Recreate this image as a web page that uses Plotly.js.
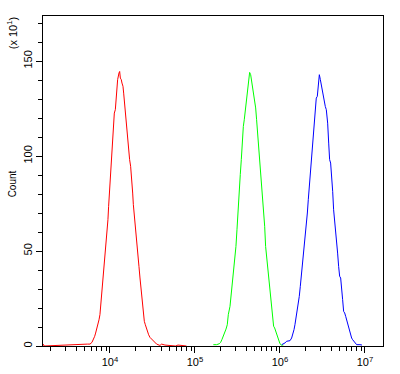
<!DOCTYPE html>
<html>
<head>
<meta charset="utf-8">
<script src="https://cdn.plot.ly/plotly-3.0.1.min.js"></script>
<style>html,body{margin:0;padding:0;background:#fff;}#chart{width:400px;height:374px;}</style>
</head>
<body>
<div id="chart"></div>
<script>
// log10 of fluorescence intensity, and counts (x10^1)
const redLogX = [3.215,3.225,3.733,3.765,3.788,3.804,3.820,3.831,3.843,3.859,3.871,3.882,3.890,3.898,3.910,3.922,3.929,3.941,3.949,3.961,3.969,3.976,3.984,3.996,4.004,4.016,4.027,4.039,4.051,4.063,4.071,4.082,4.090,4.106,4.114,4.122,4.133,4.141,4.153,4.161,4.169,4.184,4.196,4.208,4.224,4.231,4.243,4.255,4.267,4.275,4.286,4.302,4.314,4.329,4.341,4.353,4.365,4.380,4.392,4.404,4.416,4.427,4.443,4.455,4.471,4.494,4.522,4.549,4.588,4.608,4.647,4.686,4.72,4.77,4.80,4.85,4.90];
const redCount = [1.0,0,1.0,1.0,1.9,3.3,5.1,6.8,8.6,11.2,13.8,16.5,20.9,24.7,29.6,35.2,41.0,45.4,50.7,55.9,61.2,66.5,73.5,82.3,91.9,100.7,107.7,119.1,122.6,124.4,128.8,133.1,140.2,143.7,144.5,141.0,140.2,138.4,136.7,133.1,128.8,124.4,115.6,108.6,100.7,98.1,94.6,89.3,80.5,74.4,68.2,60.4,52.4,47.2,41.9,35.8,29.6,23.5,17.4,13.0,11.2,9.5,7.7,5.9,4.5,3.3,1.9,1.0,0.3,1.0,0.5,0.3,0.5,0,0.5,0.3,0];

const greenLogX = [5.216,5.255,5.286,5.302,5.318,5.333,5.349,5.365,5.380,5.392,5.412,5.424,5.435,5.447,5.459,5.471,5.482,5.494,5.502,5.514,5.522,5.533,5.545,5.557,5.569,5.580,5.592,5.604,5.620,5.631,5.643,5.655,5.667,5.678,5.690,5.702,5.714,5.725,5.737,5.749,5.761,5.773,5.784,5.796,5.808,5.820,5.831,5.843,5.855,5.867,5.878,5.890,5.902,5.914,5.925,5.937,5.949,5.961,5.973,5.984,6.000,6.016,6.039];
const greenCount = [0.7,0.7,1.2,1.9,3.5,5.1,6.5,8.9,11.2,16.5,20.9,26.1,31.4,36.7,40.2,45.4,52.4,61.2,68.2,75.2,80.5,90.2,98.1,108.6,115.6,119.1,124.4,129.6,136.7,142.0,144.0,142.8,139.3,138.4,133.1,128.8,125.3,119.1,112.1,106.8,99.8,92.8,84.9,80.5,70.0,63.0,52.4,47.2,40.2,34.9,29.6,24.4,19.1,14.7,10.4,9.5,7.7,5.9,4.2,2.5,1.2,0.5,0.5];

const blueLogX = [6.020,6.039,6.059,6.078,6.118,6.137,6.149,6.165,6.176,6.188,6.204,6.216,6.227,6.239,6.251,6.263,6.275,6.286,6.298,6.310,6.322,6.333,6.345,6.357,6.369,6.380,6.392,6.404,6.416,6.427,6.439,6.451,6.463,6.475,6.486,6.498,6.510,6.522,6.533,6.545,6.561,6.573,6.584,6.596,6.608,6.620,6.631,6.643,6.655,6.667,6.678,6.690,6.702,6.714,6.725,6.737,6.749,6.761,6.773,6.784,6.796,6.808,6.820,6.831,6.843,6.855,6.867,6.878,6.890,6.902,6.941,6.965];
const blueCount = [0.7,1.0,1.6,2.5,2.8,4.2,5.9,8.6,11.2,14.7,17.4,21.7,26.1,31.4,36.7,41.9,47.2,52.4,57.7,63.8,70.0,77.0,84.0,91.0,98.1,103.3,110.3,118.2,120.9,130.5,131.4,135.8,142.8,140.2,137.5,134.0,130.5,127.9,126.1,124.4,117.3,106.8,98.1,96.3,90.2,81.4,71.7,66.5,59.5,54.2,48.9,41.9,36.7,35.8,31.4,24.4,18.2,17.4,15.6,13.8,12.1,9.5,7.7,5.9,4.2,3.3,2.5,1.6,1.0,0.7,0.7,0.5];

const xMajorTicks = [1e4, 1e5, 1e6, 1e7];
const xMajorLabels = ['10<sup>4</sup>', '10<sup>5</sup>', '10<sup>6</sup>', '10<sup>7</sup>'];
const xMinorTicks = [2e3,3e3,4e3,5e3,6e3,7e3,8e3,9e3,2e4,3e4,4e4,5e4,6e4,7e4,8e4,9e4,2e5,3e5,4e5,5e5,6e5,7e5,8e5,9e5,2e6,3e6,4e6,5e6,6e6,7e6,8e6,9e6];
const yMajorTicks = [0, 50, 100, 150];
const yMinorTicks = [10,20,30,40,60,70,80,90,110,120,130,140,160,170];

const toX = arr => arr.map(v => Math.pow(10, v));

const traces = [
  {x: toX(redLogX), y: redCount, color: '#ff0000'},
  {x: toX(greenLogX), y: greenCount, color: '#00ff00'},
  {x: toX(blueLogX), y: blueCount, color: '#0000ff'}
].map(t => ({x: t.x, y: t.y, type: 'scatter', mode: 'lines', line: {color: t.color, width: 1}, hoverinfo: 'skip'}));

const font = {family: '"Liberation Sans", Arial, sans-serif', size: 11, color: '#000'};

const layout = {
  width: 400, height: 374,
  margin: {l: 43, r: 17, t: 16, b: 28, pad: 0},
  paper_bgcolor: '#fff', plot_bgcolor: '#fff',
  showlegend: false,
  font: font,
  xaxis: {
    type: 'log', range: [3.212, 7.212],
    showgrid: false, zeroline: false,
    showline: true, linecolor: '#000', linewidth: 1, mirror: true,
    ticks: 'outside', ticklen: 6, tickcolor: '#000', tickwidth: 1,
    tickmode: 'array', tickvals: xMajorTicks, ticktext: xMajorLabels,
    tickfont: {family: font.family, size: 11, color: '#000'},
    minor: {tickmode: 'array', tickvals: xMinorTicks, ticks: 'outside', ticklen: 4, tickcolor: '#000', tickwidth: 1, showgrid: false}
  },
  yaxis: {
    range: [0, 173.7],
    showgrid: false, zeroline: false,
    showline: true, linecolor: '#000', linewidth: 1, mirror: true,
    ticks: 'outside', ticklen: 6, tickcolor: '#000', tickwidth: 1,
    tickmode: 'array', tickvals: yMajorTicks, ticktext: yMajorTicks.map(String),
    tickangle: -90,
    tickfont: {family: font.family, size: 11, color: '#000'},
    minor: {tickmode: 'array', tickvals: yMinorTicks, ticks: 'outside', ticklen: 4, tickcolor: '#000', tickwidth: 1, showgrid: false}
  },
  annotations: [
    {text: 'Count', xref: 'paper', yref: 'paper', x: -0.091, y: 0.49, textangle: -90, showarrow: false,
     font: {family: font.family, size: 10, color: '#000'}, xanchor: 'center', yanchor: 'middle'},
    {text: '(x 10<sup>1</sup>)', xref: 'paper', yref: 'paper', x: -0.091, y: 0.948, textangle: -90, showarrow: false,
     font: {family: font.family, size: 11, color: '#000'}, xanchor: 'center', yanchor: 'middle'}
  ]
};

Plotly.newPlot('chart', traces, layout, {staticPlot: true, displayModeBar: false});
</script>
</body>
</html>
